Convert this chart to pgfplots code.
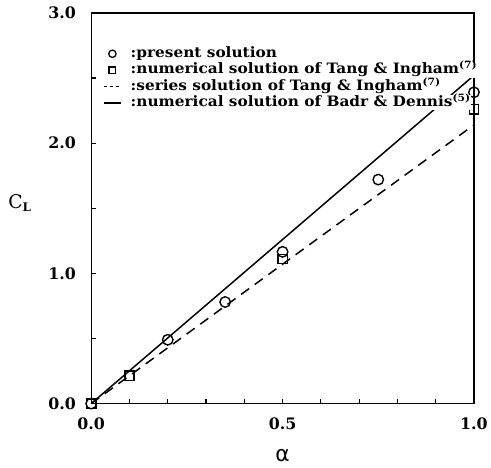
\documentclass[border=0pt]{standalone}
\usepackage{pgfplots}
\pgfplotsset{compat=1.18}
\usepackage{fontspec}
\setmainfont{DejaVu Serif}
\newfontfamily\dvsans{DejaVu Sans}
\newfontfamily\legfont{DejaVu Serif}[FakeStretch=1.07]
\begin{document}
\begin{tikzpicture}
\begin{axis}[
  scale only axis, width=386bp, height=394bp,
  xmin=0, xmax=1, ymin=0, ymax=3,
  clip=false,
  xtick={0,0.5,1}, minor xtick={0.1,0.2,0.3,0.4,0.6,0.7,0.8,0.9},
  ytick={0,1,2,3}, minor ytick={0.5,1.5,2.5},
  xticklabels={0.0,0.5,1.0}, yticklabels={0.0,1.0,2.0,3.0},
  tick align=inside, xtick pos=bottom, ytick pos=left,
  major tick length=5bp, minor tick length=5bp,
  tick style={line width=1.2bp, black},
  axis line style={line width=1.4bp},
  ticklabel style={font=\fontsize{16}{18}\selectfont\bfseries},
  xticklabel style={yshift=-11bp},
  yticklabel style={xshift=-12bp},
  xlabel={\dvsans\fontsize{22}{22}\selectfont α},
  xlabel style={at={(axis description cs:0.5,-0.132)}, anchor=center},
  ylabel={\fontsize{19}{19}\selectfont C\raisebox{-3bp}{\fontsize{12}{12}\selectfont\bfseries L}},
  ylabel style={rotate=-90, at={(axis description cs:-0.187,0.513)}, anchor=center},
  legend style={draw=none, fill=none, at={(axis description cs:0.031,0.915)}, anchor=north west,
    inner sep=0pt, font=\legfont\fontsize{14.5}{16}\selectfont\bfseries,
    nodes={fill=white, inner sep=0.3bp, text height=11bp, text depth=3.5bp},
    row sep=1.4bp, /tikz/every odd column/.append style={column sep=9bp}},
  legend cell align=left,
]
\addplot[black, line width=1.5bp, dash pattern=on 10bp off 7bp, forget plot] coordinates {(0,0) (1,2.14)};
\addplot[black, line width=1.5bp, forget plot] coordinates {(0,0) (1,2.52)};
\addplot[only marks, mark=o, mark size=5.3bp, mark options={line width=1.4bp, fill=white}, forget plot]
  coordinates {(0,0) (0.2,0.49) (0.35,0.78) (0.5,1.165) (0.75,1.72) (1.0,2.39)};
\addplot[only marks, mark=square, mark size=4.7bp, mark options={line width=1.4bp, fill=white}, forget plot]
  coordinates {(0,0) (0.1,0.215) (0.5,1.11) (1.0,2.26)};
\addlegendimage{only marks, mark=o, mark size=3.7bp, mark options={line width=1.3bp}}
\addlegendentry{:present solution}
\addlegendimage{only marks, mark=square, mark size=3.3bp, mark options={line width=1.3bp}}
\addlegendentry{:numerical solution of Tang \& Ingham\textsuperscript{(7)}}
\addlegendimage{black, line width=1.4bp, dash pattern=on 3.5bp off 2.5bp}
\addlegendentry{:series solution of Tang \& Ingham\textsuperscript{(7)}}
\addlegendimage{black, line width=1.4bp}
\addlegendentry{:numerical solution of Badr \& Dennis\textsuperscript{(5)}}
\path (rel axis cs:-0.2383,-0.1624) rectangle (rel axis cs:1.0337,1.033);
\end{axis}
\end{tikzpicture}
\end{document}
